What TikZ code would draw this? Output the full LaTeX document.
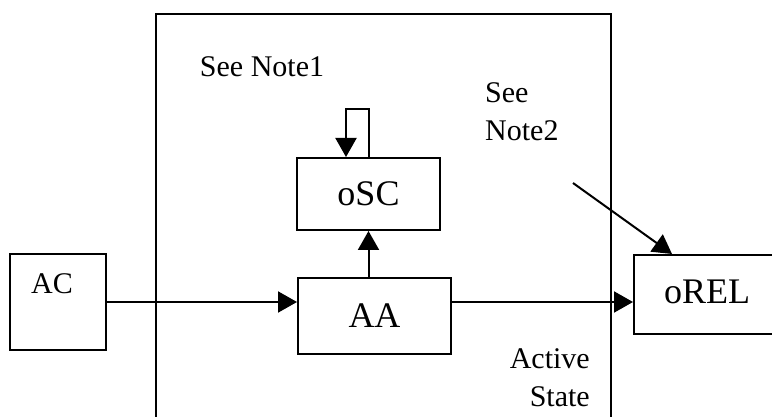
\documentclass[tikz,border=0pt]{standalone}
\usepackage{fontspec}
\setmainfont{Liberation Serif}
\usetikzlibrary{arrows.meta, positioning}

\begin{document}
\begin{tikzpicture}[x=1pt, y=-1pt,
  box/.style={draw, line width=2pt, inner sep=0pt, font=\fontsize{36}{40}\selectfont},
  note/.style={inner sep=0pt, font=\fontsize{30}{38}\selectfont},
  arr/.style={line width=2pt, -{Triangle[length=19pt, width=21pt]}}]
  \useasboundingbox (0,0) rectangle (772,417);

  % Active state frame (runs off the bottom)
  \node[box, minimum width=455pt, minimum height=430pt, anchor=north west] (state) at (155,13) {};

  % Boxes
  \node[box, minimum width=96pt, minimum height=96pt] (ac) at (58,302) {};
  \node[note] (aclabel) at (52,284) {AC};
  \node[box, minimum width=143pt, minimum height=72pt] (osc) at (368.5,194) {oSC};
  \node[box, minimum width=153pt, minimum height=76pt] (aa) at (374.5,316) {AA};
  \node[box, minimum width=142pt, minimum height=79pt, anchor=north west] (orel) at (633,254) {};
  \node[box, draw=none] (orellabel) at (707,292) {oREL};

  % Notes
  \node[note] (note1) at (262,67) {See Note1};
  \node[note, align=left, anchor=west] (note2) at (485,112) {See\\Note2};
  \node[note, align=right, anchor=east] (active) at (590,378) {Active\\State};

  % Connectors
  \draw[arr] (ac.east) -- (ac.east -| aa.west);
  \draw[arr] (aa.east |- ac.east) -- (ac.east -| orel.west);
  \draw[arr] (osc.south |- aa.north) -- (osc.south);
  \draw[arr] (osc.north) -- ++(0,-48) -| ([xshift=-22.5pt]osc.north);
  \coordinate (note2end) at (573,183);
  \draw[arr] (note2end) -- ([xshift=39pt]orel.north west);
\end{tikzpicture}
\end{document}
